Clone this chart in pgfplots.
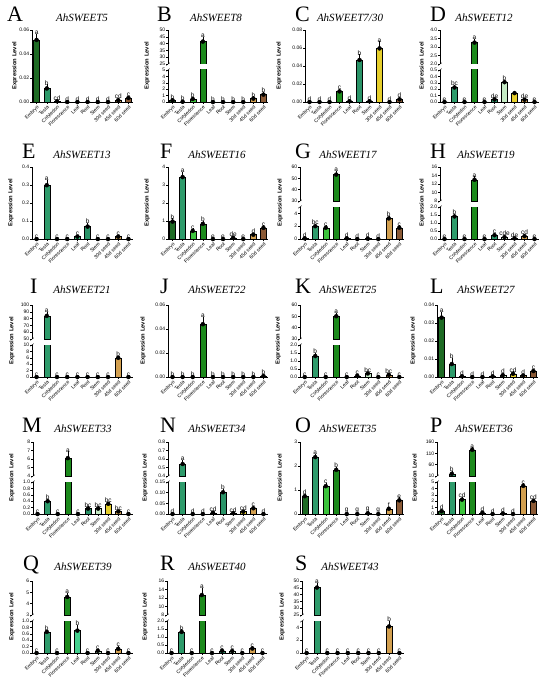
\documentclass[border=0pt]{standalone}
\usepackage{fontspec}
\setmainfont{Liberation Sans}
\newfontfamily\serif{Liberation Serif}
\usepackage{pgfplots}
\usepackage{pgfplotstable}
\pgfplotsset{compat=1.18}

\definecolor{c0}{HTML}{1E6B24}
\definecolor{c1}{HTML}{2E9B6B}
\definecolor{c2}{HTML}{3DC43D}
\definecolor{c3}{HTML}{1C8A1C}
\definecolor{c4}{HTML}{45D08F}
\definecolor{c5}{HTML}{2A9468}
\definecolor{c6}{HTML}{C5EBC5}
\definecolor{c7}{HTML}{E6CF2C}
\definecolor{c8}{HTML}{D3A050}
\definecolor{c9}{HTML}{8B5A36}

\newcommand{\ticfont}{\fontsize{5}{5}\selectfont}
\newcommand{\catfont}{\fontsize{5}{5}\selectfont}
\newcommand{\letfont}{\fontsize{6.5}{6.5}\selectfont}
\newcommand{\ylabfont}{\fontsize{5.8}{5.8}\selectfont\bfseries}

\pgfplotsset{
  base/.style={scale only axis, anchor=south west, xmin=-0.45, xmax=9.45,
    axis y line*=left, axis line style={-, line width=0.5pt, black},
    tick align=outside, major tick length=1.8pt,
    every tick/.style={black, line width=0.4pt},
    yticklabel style={font=\ticfont, inner sep=0.8pt},
    scaled y ticks=false, /pgf/number format/assume math mode=true},
  bottomax/.style={base, axis x line*=bottom, xtick={0,...,9},
    xticklabels={Embryo,Testa,Cotyledon,Florescence,Leaf,Root,Stem,30d seed,45d seed,60d seed},
    xticklabel style={font=\catfont, rotate=45, anchor=north east, inner sep=0.6pt}},
  topax/.style={base, hide x axis},
  fa/.style={yticklabel style={/pgf/number format/fixed, /pgf/number format/fixed zerofill, /pgf/number format/precision=2}},
  fb/.style={yticklabel style={/pgf/number format/fixed, /pgf/number format/fixed zerofill, /pgf/number format/precision=1}},
}

% #1 table, #2 lower limit of kept values, #3 upper limit for error bars and letters
\newcommand{\plotbody}[3]{%
  \pgfplotsinvokeforeach{0,...,9}{%
    \addplot[ybar, bar shift=0pt, bar width=6pt, fill=c##1, draw=black, line width=0.4pt,
      restrict x to domain=##1:##1, restrict y to domain=#2:1e9] table[x=x,y=y]{#1};}
  \addplot[black, only marks, mark=none, restrict y to domain=#2:#3,
    error bars/.cd, y dir=plus, y explicit, error bar style={line width=0.4pt, black},
    error mark options={black, line width=0.4pt, mark size=1.6pt}] table[x=x,y=y,y error=e]{#1};
  \addplot[only marks, mark=*, mark size=0pt, mark options={draw=none,fill=none},
    restrict y to domain=#2:#3, nodes near coords, point meta=explicit symbolic,
    nodes near coords style={font=\letfont, text=black, inner sep=0.6pt, anchor=south}]
    table[x=x, y expr=\thisrow{y}+\thisrow{e}, meta=lab]{#1};
}
\newcommand{\ttl}[3]{\node[anchor=base, inner sep=0pt, font=\serif\itshape\fontsize{11}{11}\selectfont] at (#1pt,-#2pt) {#3};}
\newcommand{\plet}[3]{\node[anchor=base west, inner sep=0pt, font=\serif\fontsize{22}{22}\selectfont] at (#1pt,-#2pt) {#3};}
\newcommand{\ylab}[2]{\node[rotate=90, inner sep=0pt, font=\ylabfont] at (#1pt,-#2pt) {Expression Level};}
\newcommand{\brk}[2]{%
  \draw[line width=0.4pt] ([shift={(-1.8pt,-1.2pt)}]#1.north west) -- ++(3.6pt,2.6pt);
  \draw[line width=0.4pt] ([shift={(-1.8pt,-1.4pt)}]#2.south west) -- ++(3.6pt,2.6pt);}

% ---------------- data ----------------
\pgfplotstableread{
x y e lab
0 0.0517 0.0040 a
1 0.0113 0.0020 b
2 0.0006 0.0001 cd
3 0 0 d
4 0 0 d
5 0 0 d
6 0 0 d
7 0 0 d
8 0.0015 0.0003 cd
9 0.0034 0.0005 c
}\tA
\pgfplotstableread{
x y e lab
0 0.26 0.05 b
1 0.04 0 b
2 0.47 0.05 b
3 41.5 2.5 a
4 0 0 b
5 0 0 b
6 0 0 b
7 0 0 b
8 0.53 0.08 b
9 1.16 0.15 b
}\tB
\pgfplotstableread{
x y e lab
0 0 0 d
1 0 0 d
2 0 0 d
3 0.0118 0.0012 c
4 0.0008 0.0002 d
5 0.0467 0.0045 b
6 0.0008 0.0002 d
7 0.0596 0.0060 a
8 0 0 d
9 0.0030 0.0005 d
}\tC
\pgfplotstableread{
x y e lab
0 0 0 e
1 0.227 0.015 bc
2 0 0 e
3 3.26 0.14 a
4 0 0 e
5 0.04 0.005 de
6 0.31 0.015 b
7 0.139 0.005 {}
8 0.036 0.005 de
9 0 0 e
}\tD
\pgfplotstableread{
x y e lab
0 0 0 c
1 0.299 0.022 a
2 0 0 c
3 0 0 c
4 0.013 0.003 c
5 0.069 0.012 b
6 0 0 c
7 0 0 c
8 0.013 0.002 c
9 0 0 c
}\tE
\pgfplotstableread{
x y e lab
0 0.97 0.09 b
1 3.44 0.19 a
2 0.45 0.05 c
3 0.84 0.09 b
4 0 0 e
5 0 0 e
6 0.07 0.02 de
7 0 0 e
8 0.24 0.03 d
9 0.62 0.05 c
}\tF
\pgfplotstableread{
x y e lab
0 0.1 0.02 d
1 2.0 0.12 bc
2 1.76 0.12 c
3 53.3 2.0 a
4 0.1 0.02 d
5 0 0 d
6 0.05 0.01 d
7 0 0 d
8 3.22 0.18 b
9 1.76 0.12 c
}\tG
\pgfplotstableread{
x y e lab
0 0 0 e
1 1.41 0.08 b
2 0 0 e
3 13.0 0.4 a
4 0 0 e
5 0.24 0.02 c
6 0.12 0.02 cde
7 0.04 0.01 de
8 0.18 0.02 cd
9 0 0 e
}\tH
\pgfplotstableread{
x y e lab
0 0 0 c
1 84 3.5 a
2 0 0 c
3 0 0 c
4 0 0 c
5 0 0 c
6 0 0 c
7 0 0 c
8 6.0 0.2 b
9 0 0 c
}\tI
\pgfplotstableread{
x y e lab
0 0 0 b
1 0 0 b
2 0 0 b
3 0.044 0.005 a
4 0 0 b
5 0 0 b
6 0 0 b
7 0 0 b
8 0 0 b
9 0.0008 0.0002 b
}\tJ
\pgfplotstableread{
x y e lab
0 0 0 c
1 1.31 0.08 b
2 0 0 c
3 50.1 1.8 a
4 0 0 c
5 0.08 0.02 c
6 0.22 0.02 bc
7 0 0 c
8 0.14 0.02 bc
9 0 0 c
}\tK
\pgfplotstableread{
x y e lab
0 0.0330 0.0022 a
1 0.0072 0.0024 b
2 0.0004 0.0001 d
3 0 0 d
4 0 0 d
5 0.0003 0.0001 d
6 0.0010 0.0002 d
7 0.0018 0.0004 cd
8 0.0008 0.0002 d
9 0.0033 0.0004 c
}\tL
\pgfplotstableread{
x y e lab
0 0 0 c
1 0.40 0.02 b
2 0 0 c
3 6.1 0.6 a
4 0 0 c
5 0.17 0.02 bc
6 0.17 0.02 bc
7 0.32 0.02 bc
8 0.08 0.01 bc
9 0 0 c
}\tM
\pgfplotstableread{
x y e lab
0 0 0 d
1 0.541 0.03 a
2 0 0 d
3 0 0 d
4 0.006 0.002 cd
5 0.102 0.010 b
6 0.004 0.001 cd
7 0.011 0.002 cd
8 0.027 0.003 c
9 0 0 d
}\tN
\pgfplotstableread{
x y e lab
0 0.74 0.04 d
1 2.37 0.08 a
2 1.16 0.07 c
3 1.84 0.06 b
4 0 0 g
5 0 0 g
6 0.03 0.01 g
7 0 0 g
8 0.22 0.02 f
9 0.57 0.06 e
}\tO
\pgfplotstableread{
x y e lab
0 0.45 0.05 d
1 20 4 b
2 2.25 0.15 cd
3 125.5 4 a
4 0.2 0.03 d
5 0 0 d
6 0.08 0.02 d
7 0 0 d
8 4.4 0.15 c
9 2.05 0.12 cd
}\tP
\pgfplotstableread{
x y e lab
0 0 0 c
1 0.66 0.02 b
2 0 0 c
3 4.59 0.2 a
4 0.70 0.12 b
5 0 0 c
6 0.07 0.02 c
7 0 0 c
8 0.13 0.05 c
9 0 0 c
}\tQ
\pgfplotstableread{
x y e lab
0 0 0 c
1 1.32 0.06 b
2 0 0 c
3 12.7 1.3 a
4 0 0 c
5 0.14 0.03 c
6 0.12 0.03 c
7 0 0 c
8 0.28 0.04 c
9 0 0 c
}\tR
\pgfplotstableread{
x y e lab
0 0 0 c
1 45.2 2.4 a
2 0 0 c
3 0 0 c
4 0 0 c
5 0 0 c
6 0 0 c
7 0 0 c
8 4.15 0.6 b
9 0 0 c
}\tS

\begin{document}
\begin{tikzpicture}
\fill[white] (0,0) rectangle (550pt,-690pt);
\path[use as bounding box] (0,0) rectangle (550pt,-690pt);

% ================= Row 1 =================
\plet{7}{22}{A}\ttl{82}{22}{AhSWEET5}\ylab{15}{66}
\begin{axis}[bottomax, fa, at={(32pt,-102pt)}, width=101pt, height=72pt, ymin=0, ymax=0.06, ytick={0,0.02,0.04,0.06}]
\plotbody{\tA}{-1}{1e9}
\end{axis}

\plet{157}{22}{B}\ttl{216}{22}{AhSWEET8}\ylab{147}{66}
\begin{axis}[bottomax, at={(168pt,-102pt)}, width=100pt, height=32pt, ymin=0, ymax=5, ytick={0,1,2,3,4,5}, name=Bl]
\plotbody{\tB}{-1}{5}
\end{axis}
\begin{axis}[topax, at={(168pt,-64pt)}, width=100pt, height=34pt, ymin=25, ymax=50, ytick={25,30,35,40,45,50}, name=Bu]
\plotbody{\tB}{25}{1e9}
\end{axis}
\brk{Bl}{Bu}

\plet{295}{22}{C}\ttl{350}{22}{AhSWEET7/30}\ylab{279}{66}
\begin{axis}[bottomax, fa, at={(305pt,-102pt)}, width=99pt, height=72pt, ymin=0, ymax=0.08, ytick={0,0.02,0.04,0.06,0.08}]
\plotbody{\tC}{-1}{1e9}
\end{axis}

\plet{430}{22}{D}\ttl{484}{22}{AhSWEET12}\ylab{422}{66}
\begin{axis}[bottomax, fb, at={(440pt,-102pt)}, width=99pt, height=32pt, ymin=0, ymax=0.5, ytick={0,0.1,0.2,0.3,0.4,0.5}, name=Dl]
\plotbody{\tD}{-1}{0.5}
\end{axis}
\begin{axis}[topax, fb, at={(440pt,-64pt)}, width=99pt, height=34pt, ymin=2, ymax=4, ytick={2,2.5,3,3.5,4}, name=Du]
\plotbody{\tD}{2}{1e9}
\end{axis}
\brk{Dl}{Du}

% ================= Row 2 =================
\plet{22}{158}{E}\ttl{82}{158}{AhSWEET13}\ylab{11}{203}
\begin{axis}[bottomax, fb, at={(32pt,-239pt)}, width=101pt, height=72pt, ymin=0, ymax=0.4, ytick={0,0.1,0.2,0.3,0.4}]
\plotbody{\tE}{-1}{1e9}
\end{axis}

\plet{160}{158}{F}\ttl{217}{158}{AhSWEET16}\ylab{147}{203}
\begin{axis}[bottomax, at={(168pt,-239pt)}, width=100pt, height=72pt, ymin=0, ymax=4, ytick={0,1,2,3,4}]
\plotbody{\tF}{-1}{1e9}
\end{axis}

\plet{295}{158}{G}\ttl{348}{158}{AhSWEET17}\ylab{280}{203}
\begin{axis}[bottomax, at={(300pt,-239pt)}, width=104pt, height=32pt, ymin=0, ymax=5, ytick={0,2,4}, name=Gl]
\plotbody{\tG}{-1}{5}
\end{axis}
\begin{axis}[topax, at={(300pt,-201pt)}, width=104pt, height=34pt, ymin=30, ymax=60, ytick={30,40,50,60}, name=Gu]
\plotbody{\tG}{30}{1e9}
\end{axis}
\brk{Gl}{Gu}

\plet{430}{158}{H}\ttl{486}{158}{AhSWEET19}\ylab{422}{203}
\begin{axis}[bottomax, fb, at={(440pt,-239pt)}, width=99pt, height=32pt, ymin=0, ymax=2, ytick={0,0.5,1,1.5,2}, name=Hl]
\plotbody{\tH}{-1}{2}
\end{axis}
\begin{axis}[topax, at={(440pt,-201pt)}, width=99pt, height=34pt, ymin=8, ymax=16, ytick={8,10,12,14,16}, name=Hu]
\plotbody{\tH}{8}{1e9}
\end{axis}
\brk{Hl}{Hu}

% ================= Row 3 =================
\plet{30}{293}{I}\ttl{82}{293}{AhSWEET21}\ylab{12}{341}
\begin{axis}[bottomax, at={(32pt,-377pt)}, width=101pt, height=32pt, ymin=0, ymax=10, ytick={0,2,4,6,8,10}, name=Il]
\plotbody{\tI}{-1}{10}
\end{axis}
\begin{axis}[topax, at={(32pt,-339pt)}, width=101pt, height=34pt, ymin=50, ymax=100, ytick={50,60,70,80,90,100}, name=Iu]
\plotbody{\tI}{50}{1e9}
\end{axis}
\brk{Il}{Iu}

\plet{160}{293}{J}\ttl{217}{293}{AhSWEET22}\ylab{143}{341}
\begin{axis}[bottomax, fa, at={(168pt,-377pt)}, width=100pt, height=72pt, ymin=0, ymax=0.06, ytick={0,0.02,0.04,0.06}]
\plotbody{\tJ}{-1}{1e9}
\end{axis}

\plet{295}{293}{K}\ttl{348}{293}{AhSWEET25}\ylab{278}{341}
\begin{axis}[bottomax, fb, at={(300pt,-377pt)}, width=104pt, height=32pt, ymin=0, ymax=2, ytick={0,0.5,1,1.5,2}, name=Kl]
\plotbody{\tK}{-1}{2}
\end{axis}
\begin{axis}[topax, at={(300pt,-339pt)}, width=104pt, height=34pt, ymin=30, ymax=60, ytick={30,40,50,60}, name=Ku]
\plotbody{\tK}{30}{1e9}
\end{axis}
\brk{Kl}{Ku}

\plet{430}{293}{L}\ttl{486}{293}{AhSWEET27}\ylab{413}{341}
\begin{axis}[bottomax, fa, at={(437pt,-377pt)}, width=101pt, height=72pt, ymin=0, ymax=0.04, ytick={0,0.01,0.02,0.03,0.04}]
\plotbody{\tL}{-1}{1e9}
\end{axis}

% ================= Row 4 =================
\plet{22}{432}{M}\ttl{83}{432}{AhSWEET33}\ylab{12}{478}
\begin{axis}[bottomax, fb, at={(33pt,-514pt)}, width=100pt, height=32pt, ymin=0, ymax=1, ytick={0,0.2,0.4,0.6,0.8,1}, name=Ml]
\plotbody{\tM}{-1}{1}
\end{axis}
\begin{axis}[topax, at={(33pt,-476pt)}, width=100pt, height=34pt, ymin=4, ymax=8, ytick={4,5,6,7,8}, name=Mu]
\plotbody{\tM}{4}{1e9}
\end{axis}
\brk{Ml}{Mu}

\plet{160}{432}{N}\ttl{217}{432}{AhSWEET34}\ylab{145}{478}
\begin{axis}[bottomax, fa, at={(168pt,-514pt)}, width=100pt, height=32pt, ymin=0, ymax=0.15, ytick={0,0.05,0.1,0.15}, name=Nl]
\plotbody{\tN}{-1}{0.15}
\end{axis}
\begin{axis}[topax, fb, at={(168pt,-476pt)}, width=100pt, height=34pt, ymin=0.4, ymax=0.8, ytick={0.4,0.5,0.6,0.7,0.8}, name=Nu]
\plotbody{\tN}{0.4}{1e9}
\end{axis}
\brk{Nl}{Nu}

\plet{295}{432}{O}\ttl{348}{432}{AhSWEET35}\ylab{280}{478}
\begin{axis}[bottomax, at={(300pt,-514pt)}, width=104pt, height=72pt, ymin=0, ymax=3, ytick={0,1,2,3}]
\plotbody{\tO}{-1}{1e9}
\end{axis}

\plet{430}{432}{P}\ttl{484}{432}{AhSWEET36}\ylab{415}{478}
\begin{axis}[bottomax, at={(437pt,-514pt)}, width=101pt, height=32pt, ymin=0, ymax=5, ytick={0,1,2,3,4,5}, name=Pl]
\plotbody{\tP}{-1}{5}
\end{axis}
\begin{axis}[topax, at={(437pt,-476pt)}, width=101pt, height=34pt, ymin=10, ymax=160, ytick={10,60,110,160}, name=Pu]
\plotbody{\tP}{10}{1e9}
\end{axis}
\brk{Pl}{Pu}

% ================= Row 5 =================
\plet{23}{570}{Q}\ttl{83}{570}{AhSWEET39}\ylab{12}{617}
\begin{axis}[bottomax, fb, at={(32pt,-653pt)}, width=101pt, height=32pt, ymin=0, ymax=1, ytick={0,0.2,0.4,0.6,0.8,1}, name=Ql]
\plotbody{\tQ}{-1}{1}
\end{axis}
\begin{axis}[topax, at={(32pt,-615pt)}, width=101pt, height=34pt, ymin=3, ymax=6, ytick={3,4,5,6}, name=Qu]
\plotbody{\tQ}{3}{1e9}
\end{axis}
\brk{Ql}{Qu}

\plet{160}{570}{R}\ttl{217}{570}{AhSWEET40}\ylab{145}{617}
\begin{axis}[bottomax, fb, at={(167pt,-653pt)}, width=100pt, height=32pt, ymin=0, ymax=2, ytick={0,0.5,1,1.5,2}, name=Rl]
\plotbody{\tR}{-1}{2}
\end{axis}
\begin{axis}[topax, at={(167pt,-615pt)}, width=100pt, height=34pt, ymin=8, ymax=16, ytick={8,10,12,14,16}, name=Ru]
\plotbody{\tR}{8}{1e9}
\end{axis}
\brk{Rl}{Ru}

\plet{295}{570}{S}\ttl{350}{570}{AhSWEET43}\ylab{282}{617}
\begin{axis}[bottomax, at={(302pt,-653pt)}, width=102pt, height=32pt, ymin=0, ymax=5, ytick={0,2,4}, name=Sl]
\plotbody{\tS}{-1}{5}
\end{axis}
\begin{axis}[topax, at={(302pt,-615pt)}, width=102pt, height=34pt, ymin=25, ymax=50, ytick={25,30,35,40,45,50}, name=Su]
\plotbody{\tS}{25}{1e9}
\end{axis}
\brk{Sl}{Su}

\end{tikzpicture}
\end{document}
